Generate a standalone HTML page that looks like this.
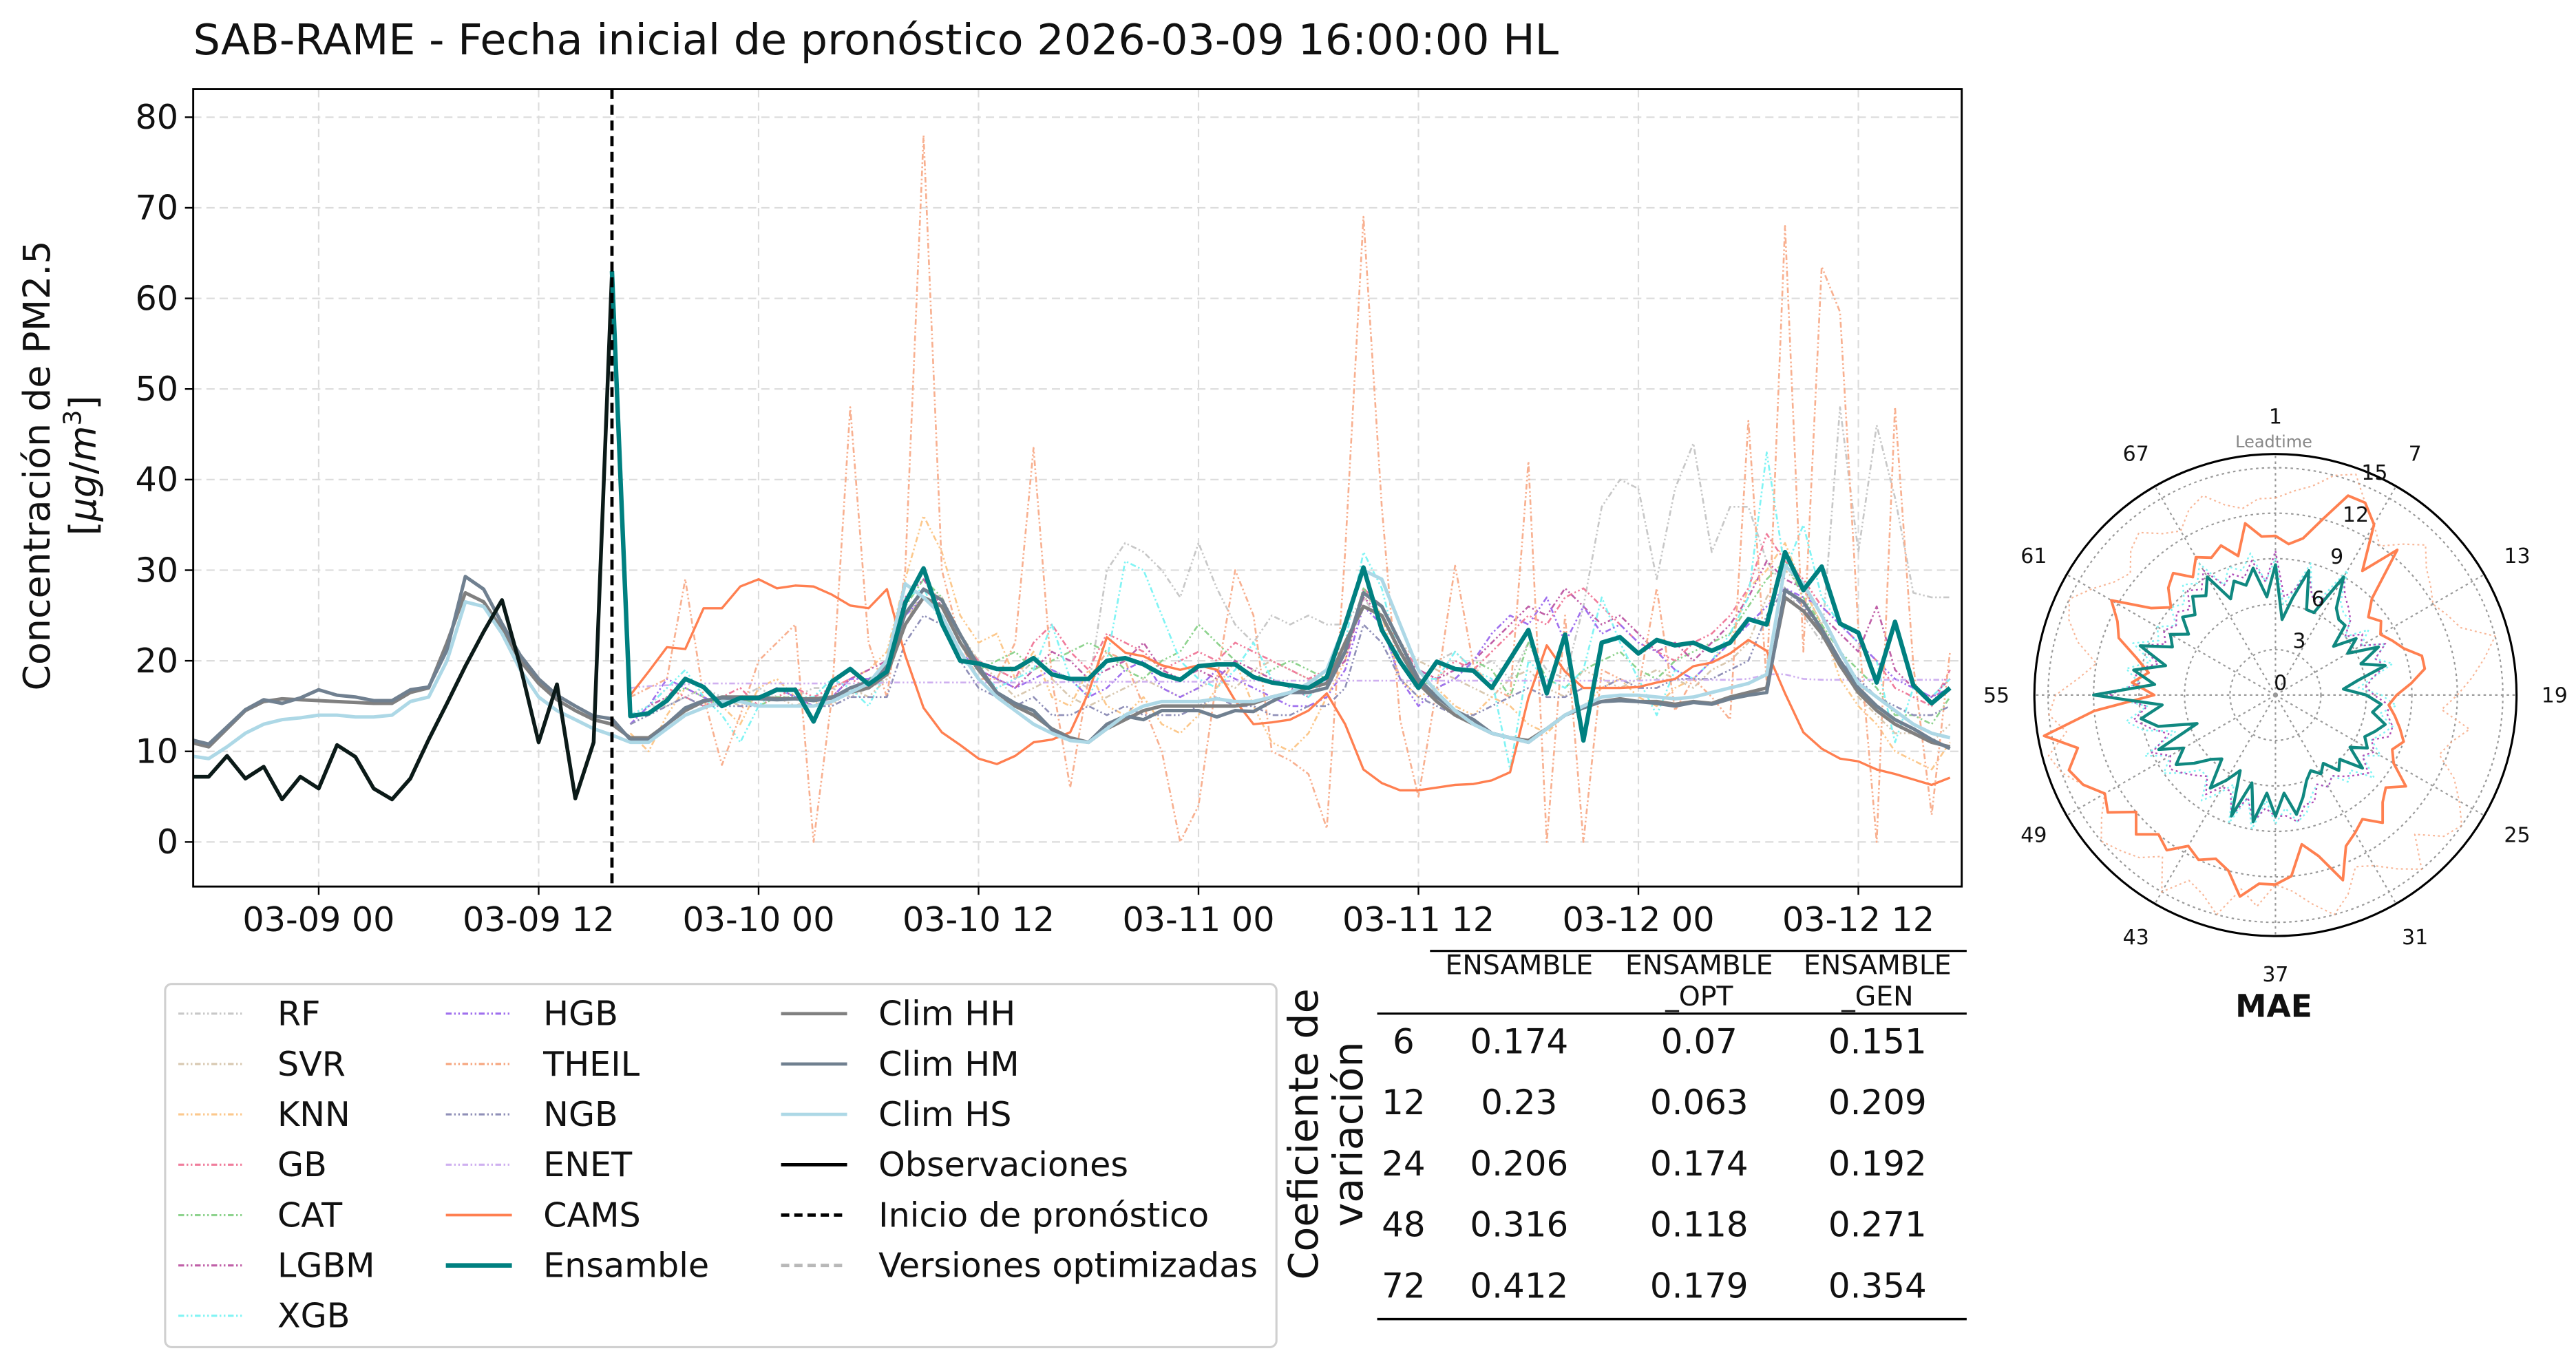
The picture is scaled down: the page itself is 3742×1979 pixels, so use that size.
<!DOCTYPE html>
<html><head><meta charset="utf-8">
<style>
html,body{margin:0;padding:0;background:#fff;}
svg{display:block;font-family:"DejaVu Sans","Liberation Sans",sans-serif;}
</style></head>
<body>
<svg id="root" width="3742" height="1979" viewBox="0 0 1560 825" preserveAspectRatio="none" xmlns="http://www.w3.org/2000/svg">
<rect x="0" y="0" width="1560" height="825" fill="#fff"/>
<text x="117" y="33" font-size="25.8" fill="#111">SAB-RAME - Fecha inicial de pronóstico 2026-03-09 16:00:00 HL</text>
<g id="main"></g>
<rect x="117" y="54" width="1071" height="483" fill="none" stroke="#000" stroke-width="1.2"/>
<g transform="translate(30,282) rotate(-90)">
<text x="0" y="0" text-anchor="middle" font-size="22.4" fill="#111">Concentración de PM2.5</text>
<text x="0" y="28" text-anchor="middle" font-size="22.4" fill="#111">[<tspan font-style="italic">μg</tspan>/<tspan font-style="italic">m</tspan><tspan font-size="15" dy="-9">3</tspan><tspan dy="9">]</tspan></text>
</g>
<g id="legend"></g>
<g id="table"></g>
<g id="polar"></g>
</svg>
<script>
// ===== Main chart data =====
const tickHours=[0,12,24,36,48,60,72,84];
const tickLabels=["03-09 00","03-09 12","03-10 00","03-10 12","03-11 00","03-11 12","03-12 00","03-12 12"];
const yTicks=[0,10,20,30,40,50,60,70,80];
const forecastStartHour=16;
const obsStartHour=-7;
const obs=[7.2,7.2,9.5,7,8.3,4.7,7.2,5.9,10.7,9.4,5.9,4.7,7,11.3,15.3,19.4,23.2,26.7,19.4,11,17.4,4.8,11,62.9];
const climStartHour=-7;
const climHH=[11,10.5,12.5,14.5,15.5,15.8,15.7, 15.6,15.5,15.4,15.3,15.3,16.5,17, 22,27.5,26.5,23.5,20,17.5,15.7,14.5,13.5,13,
 11.5,11.5,13,14.5,15.5,16,16,16,15.8,15.8,15.8,16, 16.5,17,18.5,24,27,26,22,19,16.5,15,14,12.5,11.5,11,12.5,13.5,
 14.5,15,15,15,15,15,15.3,16,16.5,17,17.5,22, 26,25,21,17.5,15.5,14,13,12,11.5,11.2,12.5,14,15,15.5,
 15.8,15.5,15.5,15.2,15.5,15.3,16,16.5,17, 27,25.5,23,19.5,16.5,14.5,13,12,11,10.5];
const climHM=[11.3,10.8,12.7,14.6,15.7,15.3,15.9, 16.8,16.2,16,15.6,15.6,16.8,17.1, 21.2,29.3,27.9,24.1,20.6,18,16.2,15,13.9,13.6,
 11.3,11.3,13,14.8,15.6,15.9,15.8,15.8,15.7,15.8,15.6,15.9, 17,17.7,19.4,25.2,27.9,26.7,22.9,19.4,16.5,15.3,14.5,12.4,11.3,11,13,13.9,
 13.5,14.5,14.5,14.5,13.8,14.5,14.4,15.5,16.5,16.5,17,21, 27.5,26,22,18,16,14.5,13.5,12,11.5,11,12.5,14,14.8,15.5,
 15.6,15.5,15.3,15,15.4,15.2,15.8,16.2,16.5, 27.8,26.5,23.5,20,17,15,13.5,12.5,11.3,10.3];
const climHS=[9.5,9.2,10.5,12,13,13.5,13.7, 14,14,13.8,13.8,14,15.5,16, 20,26.5,26,23,19,16,14.5,13.5,12.5,11.8,
 11,11,12.5,14,14.8,15.5,15.5,15,15,15,15,15.5, 16.5,17.5,20,28.5,27,25,21,18,16,14.5,13,12,11.2,11,12.5,14,
 15,15.5,15.5,15.5,15.8,15.5,15.5,16,16.5,17.5,19,24, 30,29,24,19,16.5,14.5,13,12,11.5,11,12.5,14,15,16,
 16.2,16.2,16,15.8,16,16.5,17,17.5,18.5, 30.5,28.5,25,21,17.5,16,14.5,13,12,11.5];
const ensStartHour=16;
const ensemble=[63,13.9,14.2,15.6,18,17.1,15,15.9,15.9,16.8, 16.8,13.3,17.7,19.1,17.4,18.8,26.4,30.2,24.1,20,
 19.7,19.1,19.1,20.3,18.5,18,18,20,20.3,19.6, 18.5,17.9,19.4,19.6,19.6,18.2,17.6,17.3,17,18.2,
 24,30.3,23.4,19.9,17,19.9,19.1,18.9,17,20.2, 23.4,16.4,22.9,11.2,22,22.6,20.8,22.3,21.7,22,
 21.1,22,24.6,24,32,27.8,30.4,24.1,23.1,17.6, 24.3,17.3,15.3,17];
const modelStartHour=17;
const cams=[16.2,18.8,21.5,21.3,25.8,25.8,28.2,29,28,28.3, 28.2,27.3,26.1,25.8,27.9,20.6,14.8,12.1,10.7,9.2,
 8.6,9.5,11,11.3,12.1,16.5,22.6,20.9,20.5,19.5, 19,19.5,19,15.6,13,13.2,13.5,14.5,16.4,13,
 8,6.5,5.7,5.7,6,6.3,6.4,6.8,7.7,15.9, 21.7,18.8,17,17,17,17.1,17.6,18,19.4,19.8,
 20.8,22.3,21.1,16.4,12.1,10.3,9.2,8.9,8,7.5, 6.9,6.3,7.1];
const theil=[16,17,18,29,16,8.5,14,20,22,24, 0,16,48,22,16,30,78,30,22,18, 18,22,43.5,18,6,18,21,20,15,10,
 0,4,18,30,25,10,9,7.5,1.5,32, 69,37,13.5,5,17,30.5,19.5,17,16,42, 0,25,0,19,18,17,28,14.5,18,16,
 13.5,46.5,17.5,68,21,63.5,58.5,23.5,0,48, 19.5,3,21];
const rf=[14,15,15,16,17,16,16,17,16,16, 17,17,16,17,18,25,27,26,22,20, 19,18,20,19,18,17,30,33,32,30,
 27,33,28,24,22,25,24,25,24,24, 27,24,18,17,20,21,19,20,18,22, 19,18,26,37,40,39,29,39,44,32,
 37,37,31,28,25,22,48,32,46,38, 27.5,27,27];
const svr=[13,14,15,16,15,16,15,16,16,15, 16,15,17,16,18,24,28,27,23,20, 18,16,17,18,16,15,16,17,18,17,
 16,17,18,17,19,20,19,18,18,21, 27,26,22,20,19,18,17,16,18,19, 17,16,19,18,17,18,19,18,17,19,
 20,22,27,30,28,24,20,16,14,12, 12,11,13];
const knn=[12,10,14,17,16,15,13,17,18,16, 15,17,18,19,21,29,36,32,25,22, 23,18,21,16,15,19,15,14,16,13,
 12,14,17,20,15,11,10,12,16,20, 28,25,18,16,17,15,14,16,15,13, 12,14,15,17,18,16,15,17,18,20,
 22,28,30,33,28,24,18,15,13,10, 9,8,11];
const gb=[14,15,17,16,15,16,17,15,16,17, 16,17,18,17,19,25,28,26,22,20, 19,18,22,24,21,19,23,22,21,19,
 20,21,20,22,21,20,19,18,19,21, 28,26,22,19,18,20,19,21,23,25, 24,27,28,26,24,22,21,20,22,23,
 25,28,34,31,29,26,24,22,20,17, 16,15,19];
const cat=[14,14,16,17,16,15,16,15,16,16, 15,16,17,18,19,26,29,27,22,19, 20,21,19,20,21,22,21,19,18,20,
 21,24,22,20,18,19,20,19,18,21, 28,25,21,18,17,18,20,19,16,22, 18,17,19,20,21,19,18,20,21,22,
 23,26,29,31,27,24,21,19,17,14, 14,13,16];
const lgbm=[13,15,16,18,17,15,16,16,17,16, 15,16,18,19,20,27,29,26,22,19, 18,17,19,21,20,18,19,20,22,19,
 18,19,18,20,19,18,17,16,18,20, 27,25,21,19,18,19,20,22,24,26, 25,28,26,24,25,23,21,22,20,22,
 24,27,31,29,28,25,23,21,26,19, 17,16,18];
const xgb=[14,15,17,19,16,14,11,15,17,16, 16,18,17,15,19,27,28,24,20,19, 17,18,19,24,18,16,20,31,30,25,
 20,18,17,19,22,18,17,16,18,22, 32,28,20,18,18,21,19,18,8,20, 18,17,19,27,22,18,14,19,18,20,
 23,27,43,30,35,27,24,22,20,11, 17,16,18];
const hgb=[13,15,18,17,16,15,16,16,17,16, 15,16,18,18,19,25,27,25,21,19, 18,17,18,19,18,16,17,19,20,17,
 16,17,19,18,17,16,15,15,16,19, 26,24,18,15,17,18,20,23,25,24, 27,22,26,23,24,22,21,19,18,20,
 22,24,26,28,27,26,24,22,20,18, 17,16,17];
const ngb=[13,14,15,16,15,15,15,15,15,15, 15,15,16,16,16,22,25,24,20,17, 16,15,16,14,14,15,14,15,14,14,
 14,15,16,15,15,14,14,15,15,17, 24,22,18,16,15,14,14,15,16,17, 16,16,17,17,18,17,17,18,18,18,
 19,20,25,28,26,23,20,18,16,15, 14,14,15];
const enet=[17,17.2,17.3,17.4,17.5,17.5,17.5,17.5,17.5,17.5, 17.5,17.5,17.5,17.5,17.6,17.6,17.6,17.6,17.6,17.6,
 17.6,17.6,17.6,17.6,17.7,17.7,17.7,17.7,17.7,17.7, 17.7,17.7,17.7,17.8,17.8,17.8,17.8,17.8,17.8,17.8,
 17.8,17.8,17.8,17.8,17.8,17.8,17.8,17.8,17.8,17.8, 17.8,17.8,17.8,17.8,17.8,17.8,17.9,17.9,17.9,17.9,
 17.9,18,18.5,18.5,18,17.9,17.9,17.9,17.9,17.9, 17.9,17.9,17.9];

// ===== Polar (MAE) data =====
const polarLeadLabels=[1,7,13,19,25,31,37,43,49,55,61,67];
const polarRings=[0,3,6,9,12,15];
const maeEnsemble=[8.6,5.0,6.5,8.5,6.0,6.0,9.0,7.0,6.5,6.5,5.0,6.5,5.5,7.5,6.0,7.5,5.5,4.5,6.0,7.0,6.5,7.5,7.0,6.5,7.0,6.0,7.5,6.0,6.5,5.5,6.0,5.5,6.0,7.0,8.0,6.5,8.0,6.5,8.5,6.0,8.5,5.5,6.5,7.5,5.5,6.0,7.0,8.0,7.0,8.5,5.5,8.0,9.0,7.5,12.0,8.0,9.5,7.5,9.5,7.5,8.0,7.0,8.0,7.5,8.5,8.0,9.0,7.0,8.0,7.5,8.5,6.5];
const maeCams=[10.5,10,10.5,12,14,14,13,10,12.5,9,8,8.5,8,8.5,9,10,10,9,8,7.5,8,8.5,9,8.5,9,10.5,9.5,10,11,10,10.5,11,13,11,10,12,12.5,12.5,13.5,12,11.5,12,11.5,12.5,12,13,12,13.5,13,14,14.5,13.5,15.5,12,8,9.5,8.5,9.5,11,11.5,12.5,10,9,10,10.5,9.5,10.5,10,10.5,9.5,11.5,10.5];
const maeTheil=[13,13.5,14,15,15.5,14,13,12,13,14,13,12.5,12,12.5,13,15,14,13,12,11,13,12,11.5,13,14,15,14.5,13,15,14,13,12.5,14,15,14,13,12.5,14,13,15,14,13.5,15,13,14,14.5,15,14,13,14,15,15.5,14,15,14.5,13,12,13.5,14.5,15,14,13,12.5,13.5,14,13,12.5,13.5,14,13,12.5,13];
const maeXgb=[9,6,7,9,7,7,9.5,7.5,7,7,6,7.5,6.5,8,7,8,6.5,5.5,7,8,7,8,7.5,7,8,7,8.5,7,7.5,6.5,7,6.5,7,8,8.5,7.5,8.5,7,9,7,9,6.5,7.5,8.5,7,7,8,9,8,9.5,7,9,10,8.5,11.5,9,10,8.5,10,8.5,9,8,9,8.5,9.5,9,10,8,9,8.5,9.5,7.5];
const maeLgbm=[9.5,6.5,7,8.5,7,6.5,9,8,7.5,7,6,7,6.5,8,7,7.5,6.5,6,6.5,7.5,7.5,8,8,7,7.5,7,8,7.5,7,6.5,7,6.5,7.5,7.5,8.5,8,8,7.5,8.5,7,8.5,7,7,8,7,7.5,8,8.5,8,9,7.5,8.5,9.5,8.5,11,9,9.5,8,9.5,8,8.5,8,8.5,8,9,8.5,9.5,8,8.5,8,9,7.5];

const NS="http://www.w3.org/2000/svg";
function mk(tag,attrs,parent){const e=document.createElementNS(NS,tag);for(const k in attrs)e.setAttribute(k,attrs[k]);parent.appendChild(e);return e;}

// ===== main axes =====
const X0=117,X1=1188,Y0=54,Y1=537;
function xh(h){return 193+11.1*h;}
function yv(v){return 510-v*5.4875;}
const main=document.getElementById('main');
const defs=mk('defs',{},document.getElementById('root'));
const cp=mk('clipPath',{id:'clipMain'},defs);
mk('rect',{x:X0,y:Y0,width:X1-X0,height:Y1-Y0},cp);

yTicks.forEach(v=>{
  const g=mk('line',{x1:X0,x2:X1,y1:yv(v),y2:yv(v),stroke:'#dcdcdc','stroke-width':0.9,'stroke-dasharray':'5,3'},main);
  
  
  mk('line',{x1:X0-5,x2:X0,y1:yv(v),y2:yv(v),stroke:'#000','stroke-width':1},main);
  const t=mk('text',{x:X0-9,y:yv(v)+7,'text-anchor':'end','font-size':20.5,fill:'#111'},main);
  t.textContent=v;
  
  
});
tickHours.forEach((h,i)=>{
  const g=mk('line',{x1:xh(h),x2:xh(h),y1:Y0,y2:Y1,stroke:'#dcdcdc','stroke-width':0.9,'stroke-dasharray':'5,3'},main);
  
  
  mk('line',{x1:xh(h),x2:xh(h),y1:Y1,y2:Y1+5,stroke:'#000','stroke-width':1},main);
  const t=mk('text',{x:xh(h),y:Y1+27,'text-anchor':'middle','font-size':20.5,fill:'#111'},main);
  t.textContent=tickLabels[i];
  
  
});

const series=mk('g',{'clip-path':'url(#clipMain)'},main);
function drawLine(arr,start,style,name){
  const pts=arr.map((v,i)=>xh(start+i).toFixed(2)+','+yv(v).toFixed(2)).join(' ');
  const p=mk('polyline',Object.assign({points:pts,fill:'none','stroke-linejoin':'round'},style),series);
  
  
}
const dd='3.5,1.5,1,1.5,1,1.5';
drawLine(rf,modelStartHour,{stroke:'#c8c8c8','stroke-width':1.1,'stroke-dasharray':dd},'rf-line');
drawLine(svr,modelStartHour,{stroke:'#d8c8b0','stroke-width':1.1,'stroke-dasharray':dd},'svr-line');
drawLine(knn,modelStartHour,{stroke:'#fcc88c','stroke-width':1.1,'stroke-dasharray':dd},'knn-line');
drawLine(gb,modelStartHour,{stroke:'#f07d9c','stroke-width':1.1,'stroke-dasharray':dd},'gb-line');
drawLine(cat,modelStartHour,{stroke:'#8ed38e','stroke-width':1.1,'stroke-dasharray':dd},'cat-line');
drawLine(lgbm,modelStartHour,{stroke:'#c060a8','stroke-width':1.1,'stroke-dasharray':dd},'lgbm-line');
drawLine(xgb,modelStartHour,{stroke:'#80f4f4','stroke-width':1.1,'stroke-dasharray':dd},'xgb-line');
drawLine(hgb,modelStartHour,{stroke:'#a070ee','stroke-width':1.1,'stroke-dasharray':dd},'hgb-line');
drawLine(theil,modelStartHour,{stroke:'#f8b090','stroke-width':1.1,'stroke-dasharray':dd},'theil-line');
drawLine(ngb,modelStartHour,{stroke:'#9090b8','stroke-width':1.1,'stroke-dasharray':dd},'ngb-line');
drawLine(enet,modelStartHour,{stroke:'#cfb0f0','stroke-width':1.1,'stroke-dasharray':dd},'enet-line');
drawLine(cams,modelStartHour,{stroke:'#ff7f50','stroke-width':1.4},'cams-line');
drawLine(climHH,climStartHour,{stroke:'#808080','stroke-width':2.1},'clim-hh-line');
drawLine(climHM,climStartHour,{stroke:'#708090','stroke-width':2.1},'clim-hm-line');
drawLine(climHS,climStartHour,{stroke:'#add8e6','stroke-width':2.1},'clim-hs-line');
drawLine(obs,obsStartHour,{stroke:'#0b1a18','stroke-width':2.3},'observations-line');
drawLine(ensemble,ensStartHour,{stroke:'#008080','stroke-width':2.7},'ensemble-line');
const fl=mk('line',{x1:xh(forecastStartHour),x2:xh(forecastStartHour),y1:Y0,y2:Y1,stroke:'#000','stroke-width':2,'stroke-dasharray':'6,3.5'},main);



// ===== legend =====
const lg=document.getElementById('legend');
mk('rect',{x:100,y:596,width:673,height:220,rx:4,fill:'#fff',stroke:'#d0d0d0','stroke-width':1.3},lg);
const legendItems=[
 [0,0,'RF',{stroke:'#c8c8c8','stroke-width':1.3,'stroke-dasharray':dd}],
 [0,1,'SVR',{stroke:'#d8c8b0','stroke-width':1.3,'stroke-dasharray':dd}],
 [0,2,'KNN',{stroke:'#fcc88c','stroke-width':1.3,'stroke-dasharray':dd}],
 [0,3,'GB',{stroke:'#f07d9c','stroke-width':1.3,'stroke-dasharray':dd}],
 [0,4,'CAT',{stroke:'#8ed38e','stroke-width':1.3,'stroke-dasharray':dd}],
 [0,5,'LGBM',{stroke:'#c060a8','stroke-width':1.3,'stroke-dasharray':dd}],
 [0,6,'XGB',{stroke:'#80f4f4','stroke-width':1.3,'stroke-dasharray':dd}],
 [1,0,'HGB',{stroke:'#a070ee','stroke-width':1.3,'stroke-dasharray':dd}],
 [1,1,'THEIL',{stroke:'#f6a57e','stroke-width':1.3,'stroke-dasharray':dd}],
 [1,2,'NGB',{stroke:'#9090b8','stroke-width':1.3,'stroke-dasharray':dd}],
 [1,3,'ENET',{stroke:'#cfb0f0','stroke-width':1.3,'stroke-dasharray':dd}],
 [1,4,'CAMS',{stroke:'#ff7f50','stroke-width':1.6}],
 [1,5,'Ensamble',{stroke:'#008080','stroke-width':2.8}],
 [2,0,'Clim HH',{stroke:'#808080','stroke-width':2}],
 [2,1,'Clim HM',{stroke:'#708090','stroke-width':2}],
 [2,2,'Clim HS',{stroke:'#add8e6','stroke-width':2}],
 [2,3,'Observaciones',{stroke:'#000','stroke-width':2}],
 [2,4,'Inicio de pronóstico',{stroke:'#000','stroke-width':2,'stroke-dasharray':'5,3'}],
 [2,5,'Versiones optimizadas',{stroke:'#b8b8b8','stroke-width':2,'stroke-dasharray':'5,3'}]
];
const colX=[[108,148,168],[270,310,329],[473,513,532]];
legendItems.forEach(it=>{
  const c=colX[it[0]],y=614+it[1]*30.5;
  const g=mk('g',{},lg);
  
  
  mk('line',Object.assign({x1:c[0],x2:c[1],y1:y,y2:y},it[3]),g);
  const t=mk('text',{x:c[2],y:y+7,'font-size':20.5,fill:'#111'},g);
  t.textContent=it[2];
});

// ===== table =====
const tb=document.getElementById('table');
const tblRows=[6,12,24,48,72];
const tblEns=["0.174","0.23","0.206","0.316","0.412"];
const tblOpt=["0.07","0.063","0.174","0.118","0.179"];
const tblGen=["0.151","0.209","0.192","0.271","0.354"];
mk('line',{x1:866,x2:1191,y1:576,y2:576,stroke:'#000','stroke-width':1.3},tb);
mk('line',{x1:834,x2:1191,y1:614,y2:614,stroke:'#000','stroke-width':1.3},tb);
mk('line',{x1:834,x2:1191,y1:799,y2:799,stroke:'#000','stroke-width':1.5},tb);
[[920,'ENSAMBLE',''],[1029,'ENSAMBLE','_OPT'],[1137,'ENSAMBLE','_GEN']].forEach(h=>{
  const t=mk('text',{x:h[0],y:590,'text-anchor':'middle','font-size':16.4,fill:'#111'},tb);
  t.textContent=h[1];
  
  
  if(h[2]){const t2=mk('text',{x:h[0],y:609,'text-anchor':'middle','font-size':16.4,fill:'#111'},tb);t2.textContent=h[2];}
});
tblRows.forEach((r,i)=>{
  const y=638+i*37;
  [[850,String(r)],[920,tblEns[i]],[1029,tblOpt[i]],[1137,tblGen[i]]].forEach(c=>{
    const t=mk('text',{x:c[0],y:y,'text-anchor':'middle','font-size':20.8,fill:'#111'},tb);
    t.textContent=c[1];
    
    
  });
});
const tl=mk('g',{transform:'translate(798,687) rotate(-90)'},tb);


const tl1=mk('text',{x:0,y:0,'text-anchor':'middle','font-size':24.5,fill:'#111'},tl);tl1.textContent='Coeficiente de';
const tl2=mk('text',{x:0,y:27,'text-anchor':'middle','font-size':24.5,fill:'#111'},tl);tl2.textContent='variación';

// ===== polar =====
const pg=document.getElementById('polar');
const CX=1378,CY=421,R=146,RU=9.18;
function pxy(lt,v){const a=(lt-1)/72*2*Math.PI;return [CX+v*RU*Math.sin(a),CY-v*RU*Math.cos(a)];}
polarRings.slice(1).forEach(v=>{
  mk('circle',{cx:CX,cy:CY,r:v*RU,fill:'none',stroke:'#999','stroke-width':0.9,'stroke-dasharray':'1.5,2'},pg);
});
polarLeadLabels.forEach(lt=>{
  const e=pxy(lt,R/RU);
  mk('line',{x1:CX,y1:CY,x2:e[0],y2:e[1],stroke:'#999','stroke-width':0.9,'stroke-dasharray':'1.5,2'},pg);
  const l=pxy(lt,(R+23)/RU);
  const t=mk('text',{x:l[0],y:l[1]+4.5,'text-anchor':'middle','font-size':12.5,fill:'#111'},pg);
  t.textContent=lt;
  
  
});
function polarLine(arr,style,name){
  const pts=arr.map((v,i)=>{const p=pxy(i+1,v);return p[0].toFixed(2)+','+p[1].toFixed(2);}).join(' ');
  const p=mk('polygon',Object.assign({points:pts,fill:'none','stroke-linejoin':'round'},style),pg);
  
  
}
polarLine(maeTheil,{stroke:'#f6a57e','stroke-width':0.9,'stroke-dasharray':'1.2,1.8',opacity:0.8},'polar-theil');
polarLine(maeXgb,{stroke:'#80f4f4','stroke-width':1,'stroke-dasharray':'1.2,1.8'},'polar-xgb');
polarLine(maeLgbm,{stroke:'#b050b8','stroke-width':1,'stroke-dasharray':'1.2,1.8'},'polar-lgbm');
polarLine(maeCams,{stroke:'#ff8050','stroke-width':1.6},'polar-cams');
polarLine(maeEnsemble,{stroke:'#108880','stroke-width':1.8},'polar-ensemble');
mk('circle',{cx:CX,cy:CY,r:R,fill:'none',stroke:'#000','stroke-width':1.3},pg);
polarRings.forEach((v,i)=>{
  const t=mk('text',{x:1381+i*11.4,y:418-i*25.5,'text-anchor':'middle','font-size':12.5,fill:'#111'},pg);
  t.textContent=v;
  
  
});
const lt=mk('text',{x:1377,y:271,'text-anchor':'middle','font-size':10,fill:'#888'},pg);
lt.textContent='Leadtime';


const mt=mk('text',{x:1377,y:616,'text-anchor':'middle','font-size':19,'font-weight':'bold',fill:'#111'},pg);
mt.textContent='MAE';


</script>
</body></html>
